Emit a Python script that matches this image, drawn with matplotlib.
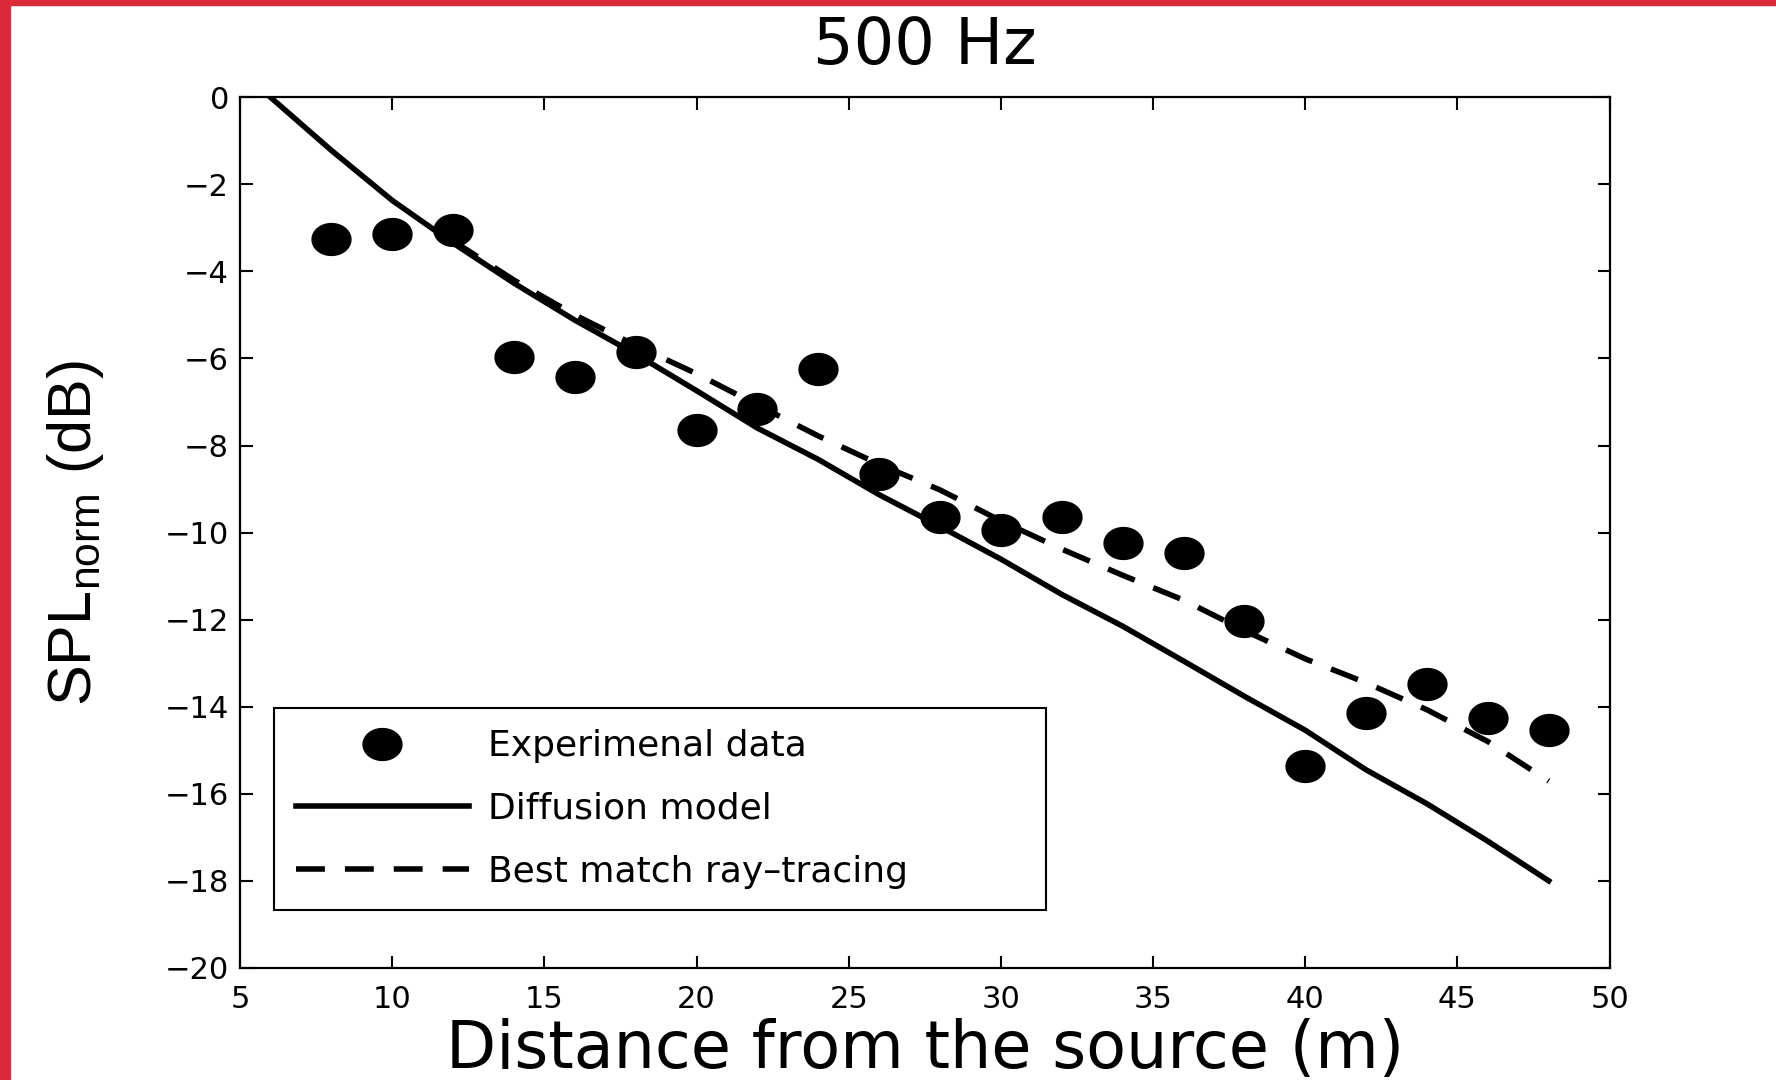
import numpy as np
import matplotlib
matplotlib.use("Agg")
import matplotlib.pyplot as plt
from matplotlib.path import Path
from matplotlib.patches import Rectangle

plt.rcParams['font.family'] = ['DejaVu Sans']
plt.rcParams['mathtext.fontset'] = 'custom'
plt.rcParams['mathtext.rm'] = 'Liberation Sans'

# ---- data ----
exp_x = [8, 10, 12, 14, 16, 18, 20, 22, 24, 26, 28, 30, 32, 34, 36, 38, 40, 42, 44, 46, 48]
exp_y = [-3.25, -3.15, -3.04, -5.96, -6.42, -5.85, -7.65, -7.15, -6.24, -8.66, -9.65,
         -9.93, -9.65, -10.25, -10.46, -12.04, -15.37, -14.15, -13.47, -14.25, -14.54]

diff_x = [6, 8, 10, 12, 14, 16, 18, 20, 22, 24, 26, 28, 30, 32, 34, 36, 38, 40, 42, 44, 46, 48]
diff_y = [0.0, -1.22, -2.37, -3.35, -4.27, -5.12, -5.90, -6.74, -7.60, -8.32, -9.13,
          -9.86, -10.61, -11.42, -12.15, -12.95, -13.76, -14.54, -15.45, -16.23, -17.09, -18.0]

ray_x = [12, 14, 16, 18, 20, 22, 24, 26, 28, 30, 32, 34, 36, 38, 40, 42, 44, 46, 48]
ray_y = [-3.3, -4.2, -5.0, -5.7, -6.35, -7.07, -7.78, -8.43, -9.02, -9.73, -10.38,
         -10.98, -11.55, -12.25, -12.9, -13.45, -14.07, -14.8, -15.71]

title = "500 Hz"
xlabel = "Distance from the source (m)"
ylabel = "SPL$_\\mathregular{norm}$ (dB)"
labels = ["Experimenal data", "Diffusion model", "Best match ray\u2013tracing"]
xticks = [5, 10, 15, 20, 25, 30, 35, 40, 45, 50]
yticks = [0, -2, -4, -6, -8, -10, -12, -14, -16, -18, -20]

# ellipse marker (wider than tall)
t = np.linspace(0, 2 * np.pi, 60)
ell = Path(np.column_stack([1.22 * np.cos(t), np.sin(t)]), closed=True)

fig = plt.figure(figsize=(17.76, 10.8), dpi=100)
ax = fig.add_axes([0.1352, 0.1038, 0.9063 - 0.1352, 0.9099 - 0.1038])

ax.plot(exp_x, exp_y, linestyle='none', marker=ell, markersize=28,
        color='black', label=labels[0])
ax.plot(diff_x, diff_y, '-', color='black', lw=4, label=labels[1])
ax.plot(ray_x, ray_y, color='black', lw=4, dashes=(5.2, 3.6), label=labels[2])

ax.set_xlim(5, 50)
ax.set_ylim(-20, 0)
ax.set_xticks(xticks)
ax.set_yticks(yticks)
ax.set_yticklabels([str(v).replace('-', '\u2212') for v in yticks])
ax.tick_params(direction='in', length=9, width=1.5, top=True, right=True,
               labelsize=22)
ax.tick_params(axis='x', pad=12)
ax.tick_params(axis='y', pad=8)
for s in ax.spines.values():
    s.set_linewidth(1.6)

ax.set_title(title, fontsize=46, pad=24)
ax.set_xlabel(xlabel, fontsize=47, labelpad=3)
ax.set_ylabel(ylabel, fontsize=44, labelpad=42, family=['Liberation Sans'])

leg = ax.legend(loc='lower left', bbox_to_anchor=(0.0248, 0.0663, 0.564, 0.232),
                mode='expand', borderaxespad=0, fontsize=26, numpoints=1,
                handlelength=4.8, handletextpad=0.53, labelspacing=0.79,
                borderpad=0.6, fancybox=False, edgecolor='black', framealpha=1)
leg.get_frame().set_linewidth(1.5)

# red border on left and top
fig.patches.append(Rectangle((0, 0), 10 / 1776, 1, transform=fig.transFigure,
                             color='#DC2A3C', zorder=10))
fig.patches.append(Rectangle((0, 1 - 5 / 1080), 1, 5 / 1080, transform=fig.transFigure,
                             color='#DC2A3C', zorder=10))

fig.savefig('out.png', dpi=100)
